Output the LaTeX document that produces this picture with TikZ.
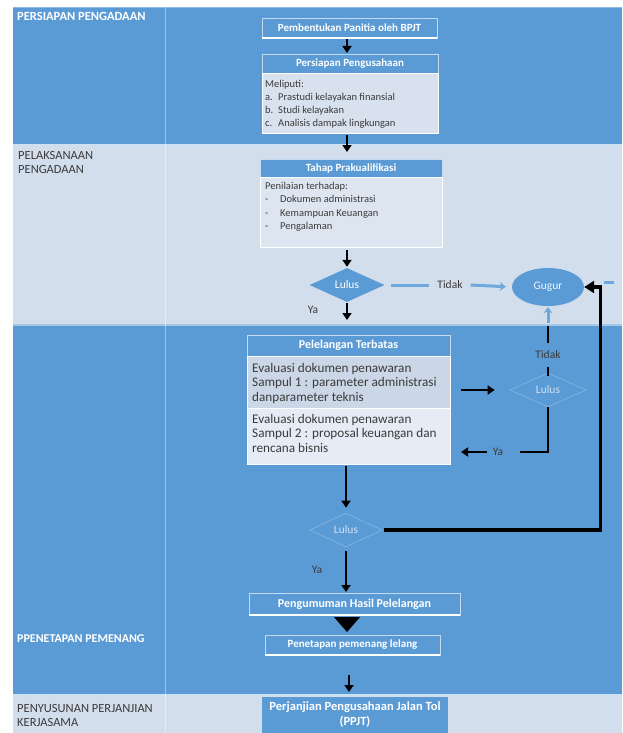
\documentclass[tikz,border=0pt]{standalone}
\usepackage{fontspec}
\setmainfont{Carlito}
\usetikzlibrary{shapes.geometric,arrows.meta,calc}
\definecolor{bandD}{HTML}{5B9BD5}
\definecolor{bandL}{HTML}{D3DEED}
\definecolor{bodyA}{HTML}{D8E1EE}
\definecolor{bodyB}{HTML}{DDE5F1}
\definecolor{secA}{HTML}{CBD6E6}
\definecolor{secB}{HTML}{E5ECF5}
\definecolor{edgeL}{HTML}{C4DAF0}
\definecolor{lblue}{HTML}{6FA8DC}
\definecolor{txtD}{HTML}{3B3B3B}
\definecolor{faint}{HTML}{86B6E4}
\definecolor{faintT}{HTML}{CFE1F4}
\newcommand{\myfs}[2]{\fontsize{#1}{#2}\selectfont}
\begin{document}
\begin{tikzpicture}[x=1pt,y=-1pt,
  box/.style={anchor=north west, inner sep=0pt, outer sep=0pt},
  hdr/.style={box, draw=edgeL, line width=0.6pt, fill=bandD, text=white, font=\bfseries\myfs{11}{13}},
  body/.style={box, draw=white, line width=0.6pt},
  btxt/.style={anchor=north west, inner sep=0pt, align=left, text=txtD},
  lab/.style={anchor=north west, inner sep=0pt, align=left, font=\myfs{12.5}{14.5}},
  dia/.style={diamond, inner sep=0pt, font=\myfs{11.5}{13}},
  arr/.style={line width=2.6pt, -{Triangle[width=9pt,length=7pt]}},
  blk/.style={line width=2.6pt},
  lbl/.style={line width=3pt, draw=lblue},
  lbarr/.style={lbl, -{Stealth[width=9pt,length=6pt,inset=2pt]}},
  captxt/.style={inner sep=0pt, text=txtD, font=\myfs{11.5}{13}},
  wline/.style={white, line width=1.6pt}
]
\useasboundingbox (0,0) rectangle (622,733);
\fill[white] (0,0) rectangle (622,733);
% bands
\fill[bandD] (13,7) rectangle (622,145);
\fill[bandL] (13,145) rectangle (622,325);
\fill[bandD] (13,325) rectangle (622,695);
\fill[bandL] (13,695) rectangle (622,733);
\draw[line width=1.2pt, white!30!bandD] (13,7.6) -- (622,7.6);
\draw[line width=1.5pt, white!70!bandD] (13,145) -- (622,145);
\draw[line width=2pt, white!45!bandD] (13,325) -- (622,325);
\draw[line width=1.5pt, white!70!bandD] (13,695) -- (622,695);
\draw[white, opacity=.4, line width=1pt] (165,7) -- (165,733);

% lane labels
\node[lab, text=white, font=\bfseries\myfs{12.5}{14.5}] (l1) at (17,12) {PERSIAPAN PENGADAAN};
\node[lab, text=txtD] (l2) at (18,151) {PELAKSANAAN\\PENGADAAN};
\node[lab, text=white, font=\bfseries\myfs{12}{14}] (l3) at (17,634) {PPENETAPAN PEMENANG};
\node[lab, text=txtD] (l4) at (17,704) {PENYUSUNAN PERJANJIAN\\KERJASAMA};

% boxes
\node[hdr, minimum width=175pt, minimum height=20pt] (pemb) at (262,18) {Pembentukan Panitia oleh BPJT};
\draw[wline] (pemb.south west) -- (pemb.south east);

\node[hdr, minimum width=176pt, minimum height=19pt] (persH) at (262,54) {Persiapan Pengusahaan};
\node[body, fill=bodyA, minimum width=176pt, minimum height=60pt] (persB) at (262,73) {};
\node[btxt, font=\myfs{10.5}{13}] (persT) at (265,80) {Meliputi:\\\makebox[13pt][l]{a.}Prastudi kelayakan finansial\\\makebox[13pt][l]{b.}Studi kelayakan\\\makebox[13pt][l]{c.}Analisis dampak lingkungan};

\node[hdr, minimum width=182pt, minimum height=18pt] (tahH) at (260,159) {Tahap Prakualifikasi};
\node[body, fill=bodyB, minimum width=182pt, minimum height=70pt] (tahB) at (260,177) {};
\node[btxt, font=\myfs{10.5}{13.3}] (tahT) at (265,182) {Penilaian terhadap:\\\makebox[15pt][l]{-}Dokumen administrasi\\\makebox[15pt][l]{-}Kemampuan Keuangan\\\makebox[15pt][l]{-}Pengalaman};

\node[hdr, font=\bfseries\myfs{12}{14}, minimum width=203pt, minimum height=21pt] (pelH) at (247,335) {Pelelangan Terbatas};
\node[body, fill=secA, minimum width=203pt, minimum height=52pt] (sec1) at (247,356) {};
\node[body, fill=secB, minimum width=203pt, minimum height=56pt] (sec2) at (247,408) {};
\node[btxt, font=\myfs{13.2}{14.6}] (sec1T) at (252,363) {Evaluasi dokumen penawaran\\Sampul 1 : parameter administrasi\\danparameter teknis};
\node[btxt, font=\myfs{13.2}{14.6}] (sec2T) at (252,414) {Evaluasi dokumen penawaran\\Sampul 2 : proposal keuangan dan\\rencana bisnis};

\node[hdr, font=\bfseries\myfs{12}{14}, minimum width=211pt, minimum height=22pt] (pengum) at (249,593) {Pengumuman Hasil Pelelangan};
\draw[wline] (pengum.south west) -- (pengum.south east);
\node[hdr, minimum width=175pt, minimum height=20pt] (penet) at (265,635) {Penetapan pemenang lelang};
\draw[wline] (penet.south west) -- (penet.south east);

\node[box, fill=bandD, text=white, font=\bfseries\myfs{12.5}{15}, align=center, minimum width=186pt, minimum height=36pt] (perj) at (262,697) {Perjanjian Pengusahaan Jalan Tol\\(PPJT)};

% decisions
\node[dia, fill=bandD, text=white, minimum width=75pt, minimum height=34pt] (d1) at (347,285) {Lulus};
\node[dia, draw=faint, line width=0.6pt, text=faintT, minimum width=76pt, minimum height=34pt] (d2) at (548,390) {Lulus};
\node[dia, draw=faint, line width=0.6pt, text=faintT, minimum width=72pt, minimum height=34pt] (d3) at (346,530) {Lulus};
\node[ellipse, fill=bandD, text=white!90!bandD, font=\myfs{11.5}{13}, minimum width=72pt, minimum height=38pt, inner sep=0pt] (gug) at (548,287) {Gugur};

% captions
\node[captxt, inner xsep=8pt] (tid1) at (450,285) {Tidak};
\node[captxt] (ya1) at (313,310) {Ya};
\node[captxt, inner ysep=8pt] (tid2) at (548,355) {Tidak};
\node[captxt, inner xsep=5pt] (ya2) at (498,452) {Ya};
\node[captxt] (ya3) at (317,570) {Ya};

% connectors
\coordinate (cx) at (347,0);
\coordinate (cy) at (349,0);
\coordinate (bnd) at (548,323);
\draw[arr, shorten <=1pt, shorten >=1pt] (pemb.south -| cx) -- (persH.north -| cx);
\draw[arr, shorten <=2pt, shorten >=7pt] (persB.south -| cx) -- (tahH.north -| cx);
\draw[arr, shorten <=3pt, shorten >=1pt] (tahB.south -| d1) -- (d1.north);
\draw[arr, shorten <=1pt, shorten >=15pt] (d1.south) -- (pelH.north -| d1);
\draw[lbl, shorten <=6pt] (d1.east) -- (tid1.west);
\draw[lbarr, shorten >=6pt] (tid1.east) -- (gug.west);
\draw[lbarr, shorten >=1pt] (bnd) -- (gug.south);
\draw[blk, shorten >=3pt] (tid2.north) -- (bnd);
\draw[blk, shorten >=-3pt] (tid2.south) -- (d2.north);
\draw[lbl] ($(gug.east)+(20,-5)$) -- ($(gug.east)+(30,-5)$);
\draw[arr, shorten <=11pt, shorten >=15pt] (d2 -| sec1.east) -- (d2.west);
\draw[blk, shorten >=12pt] (d2.south) |- (ya2.east);
\draw[arr, shorten <=1pt, shorten >=11pt] (ya2.west) -- (ya2 -| sec2.east);
\draw[arr, shorten <=2pt, shorten >=5pt] (sec2.south -| d3) -- (d3.north);
\draw[line width=3.2pt, -{Triangle[width=12pt,length=10pt]}, shorten <=2pt] (d3.east) -| ($(gug.east)+(16,0)$) -- (gug.east);
\draw[arr, shorten <=4pt, shorten >=1pt] (d3.south) -- (pengum.north -| d3);
\draw[line width=1pt, -{Triangle[width=26pt,length=15pt]}, shorten <=2pt, shorten >=3pt] (pengum.south -| cx) -- (penet.north -| cx);
\draw[arr, shorten <=20pt, shorten >=5pt] (penet.south -| cy) -- (perj.north -| cy);
\end{tikzpicture}
\end{document}
